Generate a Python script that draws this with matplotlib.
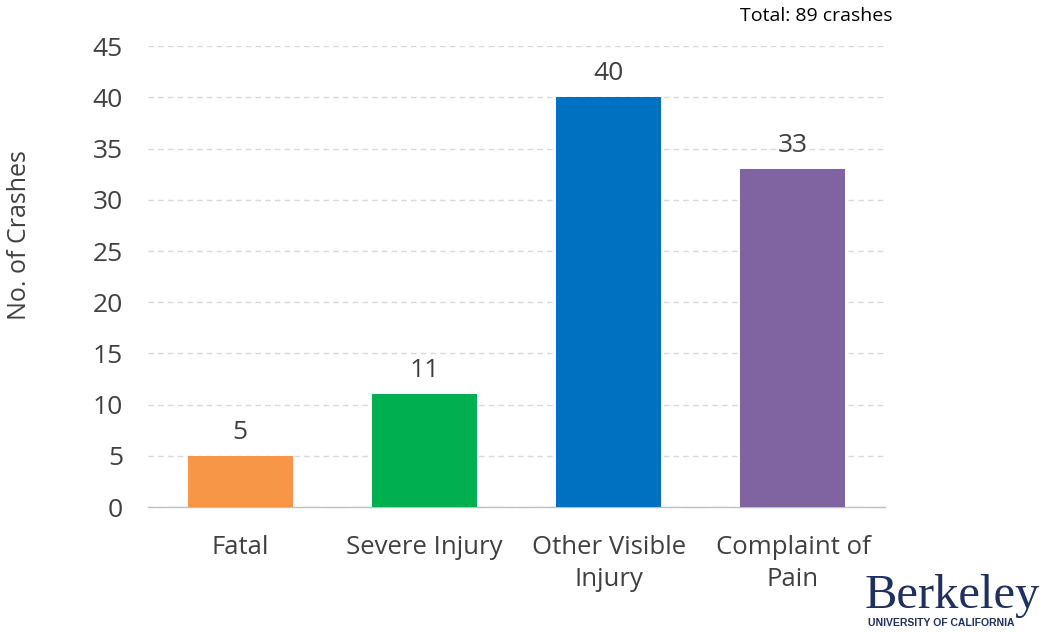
import matplotlib.pyplot as plt

categories = ["Fatal", "Severe Injury", "Other Visible\nInjury", "Complaint of\nPain"]
crashes = [5, 11, 40, 33]
colors = ["#F79646", "#00B050", "#0070C0", "#8064A2"]
yticks = [0, 5, 10, 15, 20, 25, 30, 35, 40, 45]

plt.rcParams['font.family'] = ['Open Sans', 'DejaVu Sans']
text_color = "#404040"

fig = plt.figure(figsize=(10.45, 6.33), dpi=100)
ax = fig.add_axes([0.1416, 0.199, 0.7054, 0.728])

x = range(len(categories))
bars = ax.bar(x, crashes, width=0.57, color=colors, zorder=3)
for xi, v in zip(x, crashes):
    ax.text(xi, v + 1.1, str(v), ha="center", va="bottom", fontsize=19, color=text_color)

ax.set_xlim(-0.5, 3.5)
ax.set_ylim(0, 45)
ax.set_yticks(yticks)
ax.set_xticks(list(x))
ax.set_xticklabels(categories, fontsize=18.5, color=text_color, linespacing=1.38)
ax.tick_params(axis="y", labelsize=19, labelcolor=text_color, length=0, pad=18)
ax.tick_params(axis="x", length=0, pad=20)
ax.grid(axis="y", color="#D9D9D9", linestyle=(0, (4, 3)), linewidth=1, zorder=0)
for s in ["top", "right", "left"]:
    ax.spines[s].set_visible(False)
ax.spines["bottom"].set_color("#BFBFBF")
ax.spines["bottom"].set_linewidth(1)

fig.text(20 / 1045, 1 - 235 / 633, "No. of Crashes", rotation=90, ha="center", va="center",
         fontsize=18, color=text_color)
fig.text(893 / 1045, 1 - 16 / 633, "Total: 89 crashes", ha="right", va="center",
         fontsize=14, color="black")

# Berkeley logo text
fig.text(952 / 1045, 1 - 596 / 633, "Berkeley", ha="center", va="center",
         fontsize=35, color="#1F3060", family="Liberation Serif")
fig.text(941 / 1045, 1 - 623 / 633, "UNIVERSITY OF CALIFORNIA", ha="center", va="center",
         fontsize=7.5, color="#1F3060", family="Liberation Sans", weight="bold")

fig.savefig("out.png", dpi=100)
